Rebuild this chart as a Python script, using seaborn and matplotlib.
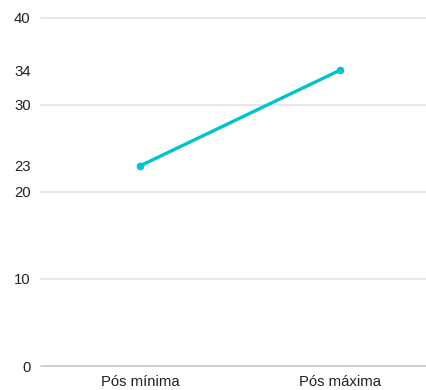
import matplotlib
matplotlib.use("Agg")
import matplotlib.pyplot as plt
import seaborn as sns
import pandas as pd

categories = ["Pós mínima", "Pós máxima"]
values = [23, 34]
grid_values = [0, 10, 20, 30, 40]
tick_values = [0, 10, 20, 23, 30, 34, 40]

sns.set_theme(style="white")
plt.rcParams["font.family"] = ["Liberation Sans", "DejaVu Sans"]

df = pd.DataFrame({"categoria": categories, "valor": values})

fig = plt.figure(figsize=(4.27, 3.90), dpi=100)
ax = fig.add_axes([41 / 427, 24 / 390, 386 / 427, 348 / 390])

for g in grid_values:
    ax.axhline(g, color="#c4c4c4" if g == 0 else "#e0e0e0", lw=1.1,
               zorder=0, clip_on=False)

sns.lineplot(data=df, x="categoria", y="valor", ax=ax, color="#00c4cc",
             linewidth=2.4, marker="o", markersize=5.5, markeredgewidth=0,
             sort=False)

ax.set_ylim(0, 40)
ax.set_xlim(-0.495, 1.435)
ax.set_yticks(tick_values)
ax.set_yticklabels([str(v) for v in tick_values])
ax.set_xlabel("")
ax.set_ylabel("")
for s in ax.spines.values():
    s.set_visible(False)
ax.tick_params(axis="both", length=0, labelsize=10.7, colors="#222222")
ax.tick_params(axis="y", pad=7.5)
ax.tick_params(axis="x", pad=6.5)
ax.grid(False)

fig.savefig("out.png", dpi=100)
